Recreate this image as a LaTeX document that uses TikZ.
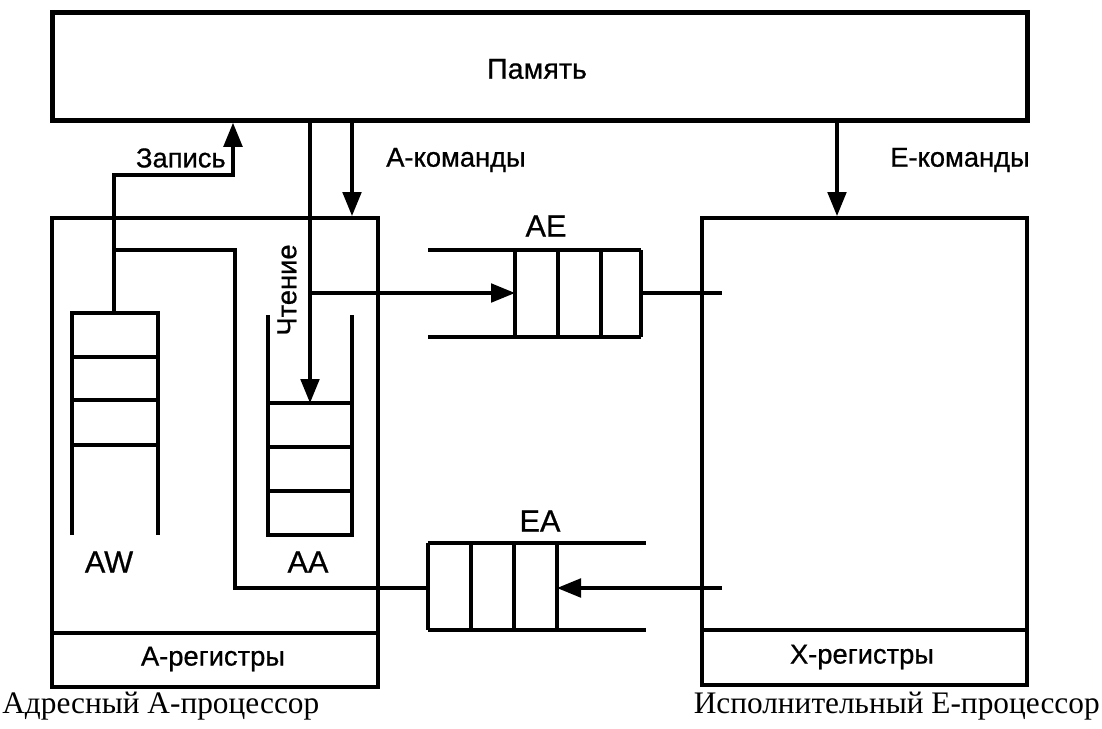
\documentclass[tikz,border=0pt]{standalone}
\usepackage{fontspec}
\setmainfont{Liberation Serif}
\newfontfamily\lsans[FakeBold=0.7]{Liberation Sans}
\usetikzlibrary{arrows.meta}
\begin{document}
\begin{tikzpicture}[x=0.75pt,y=-0.75pt,
  lab/.style={font=\lsans\fontsize{20.5}{24}\selectfont, inner sep=0pt},
  memfont/.style={font=\lsans\fontsize{21.5}{25}\selectfont, inner sep=0pt},
  biglab/.style={font=\lsans\fontsize{23}{26}\selectfont, inner sep=0pt},
  captext/.style={font=\fontsize{23.5}{27}\selectfont, inner sep=0pt},
  membox/.style={draw, line width=3.6pt, anchor=north west, inner sep=0pt},
  procbox/.style={draw, line width=2.8pt, anchor=north west, inner sep=0pt},
  ln/.style={line width=2.3pt},
  arr/.style={line width=2.4pt, -{Triangle[length=18pt,width=14pt]}}]
\useasboundingbox (0,0) rectangle (1102,728);

% memory
\node[membox, minimum width=731.25pt, minimum height=81pt] (mem) at (50,10) {};
\node[memfont] (memlab) at (537,69) {Память};

% processors
\node[procbox, minimum width=244.5pt, minimum height=351.75pt] (pa) at (50,216) {};
\node[procbox, minimum width=243.75pt, minimum height=350.25pt] (pe) at (700,216) {};
\draw[line width=2.8pt] (pa.west |- 0,633) -- (pa.east |- 0,633);
\draw[line width=2.8pt] (pe.west |- 0,630) -- (pe.east |- 0,630);
\node[lab] (areg) at (213,659) {А-регистры};
\node[lab] (xreg) at (862,657) {Х-регистры};

% AW stack
\draw[ln] (72,535) -- (72,313) -- (158,313) -- (158,535);
\foreach \yy in {357,400,445} \draw[ln] (72,\yy) -- (158,\yy);
\node[biglab] (awlab) at (109,562) {AW};
\coordinate (awtop) at (114,313);

% AA stack
\draw[ln] (268,315) -- (268,535) -- (352,535) -- (352,315);
\foreach \yy in {403,447,491} \draw[ln] (268,\yy) -- (352,\yy);
\node[biglab] (aalab) at (308,562) {AA};
\coordinate (aatop) at (310,403);

% AE queue
\draw[ln] (428,250) -- (641,250);
\draw[ln] (428,337) -- (641,337);
\foreach \xx in {515,558,601,641} \draw[ln] (\xx,250) -- (\xx,337);
\node[biglab] (aelab) at (546,226) {AE};
\coordinate (aein) at (515,293);
\coordinate (aeout) at (641,293);

% EA queue
\draw[ln] (428,543) -- (646,543);
\draw[ln] (428,630) -- (646,630);
\foreach \xx in {428,471,514,557} \draw[ln] (\xx,543) -- (\xx,630);
\node[biglab] (ealab) at (540,521) {EA};
\coordinate (eain) at (557,588);
\coordinate (eaout) at (428,588);

% write path
\coordinate (zapc) at (233,175);
\draw[arr] (awtop) |- (zapc) -- (zapc |- mem.south);
\node[lab, anchor=east] (zaplab) at (226,158) {Запись};
\draw[ln] (eaout) -- (235,588) -- (235,250) -- (114,250);

% read path
\coordinate (rd) at (310,118);
\draw[arr] (rd) -- (aatop);
\coordinate (rdbranch) at (310,293);
\draw[arr] (rdbranch) -- (aein);
\node[lab, rotate=90] (readlab) at (287,290) {Чтение};

% A-commands
\coordinate (acmd) at (352,118);
\draw[arr] (acmd) -- (acmd |- pa.north);
\node[lab, anchor=west] (acmdlab) at (386,160) {А-команды};

% E-commands
\coordinate (ecmd) at (837,118);
\draw[arr] (ecmd) -- (ecmd |- pe.north);
\node[lab, anchor=west] (ecmdlab) at (890,160) {Е-команды};

% AE -> E, E -> EA
\coordinate (eaeend) at (722,293);
\draw[ln] (aeout) -- (eaeend);
\coordinate (eaestart) at (722,588);
\draw[arr] (eaestart) -- (eain);

% captions
\node[captext, anchor=west] (capa) at (2,706) {Адресный А-процессор};
\node[captext, anchor=east] (cape) at (1100,706) {Исполнительный Е-процессор};
\end{tikzpicture}
\end{document}
